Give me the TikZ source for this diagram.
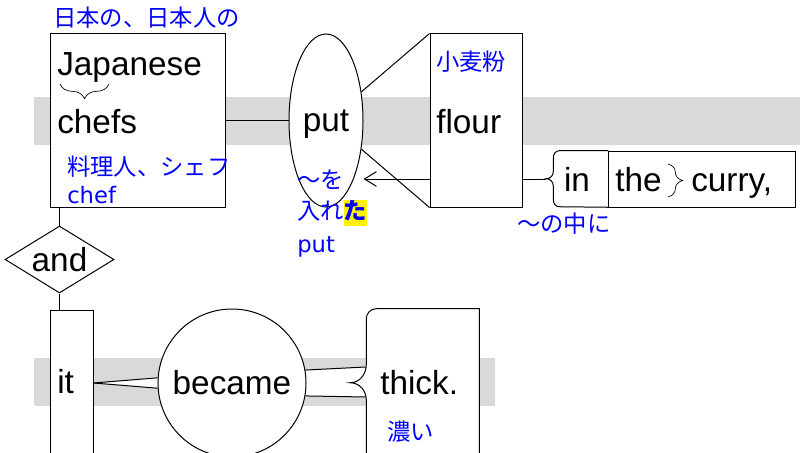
\documentclass[tikz,border=0pt]{standalone}
\usepackage{fontspec}
\setmainfont{Liberation Sans}
\newfontfamily\jpfont{Noto Sans CJK JP}
\newfontfamily\glosslatin{DejaVu Sans}
\usetikzlibrary{shapes.geometric, arrows.meta, decorations.pathreplacing}
\pgfdeclarelayer{bands}
\pgfdeclarelayer{links}
\pgfsetlayers{bands,links,main}
\newcommand\wordfont{\fontsize{25}{30}\selectfont}
\newcommand\glossfont{\jpfont\fontsize{17.5}{20}\selectfont}
\newcommand\yellowmark[1]{{\setlength{\fboxsep}{0pt}\colorbox{yellow}{\rule[-0.3em]{0pt}{1.0em}\bfseries #1}}}
\tikzset{
  wordbox/.style={
    rectangle,
    draw=black,
    fill=white,
    line width=0.75pt,
    inner sep=0pt
  },
  clear/.style={
    rectangle,
    inner sep=0pt,
    font=\wordfont
  },
  verb/.style={
    ellipse,
    draw=black,
    fill=white,
    line width=0.75pt,
    inner sep=0pt,
    text depth=0pt,
    font=\wordfont
  },
  event/.style={
    circle,
    draw=black,
    fill=white,
    line width=0.75pt,
    inner sep=0pt,
    minimum size=111pt,
    font=\wordfont
  },
  conj/.style={
    diamond,
    aspect=1.63,
    draw=black,
    fill=white,
    line width=0.75pt,
    inner sep=0pt,
    minimum width=81.75pt,
    minimum height=50.25pt,
    font=\wordfont
  },
  word/.style={anchor=base west, inner sep=0pt, font=\wordfont},
  gloss/.style={anchor=base west, inner sep=0pt, text=blue, font=\glossfont},
  latingloss/.style={gloss, font=\glosslatin\fontsize{17}{20}\selectfont},
  band/.style={fill=black!15},
  link/.style={line width=0.75pt},
  back/.style={line width=0.75pt, -{Straight Barb[length=9pt, width=11pt]}},
  brc/.style={decorate, decoration={brace, amplitude=11pt}, line width=0.5pt}
}

\begin{document}
\begin{tikzpicture}[x=0.75pt, y=-0.75pt]
  \useasboundingbox (0,0) rectangle (800,453);
  \begin{pgfonlayer}{bands}
    \fill[band] (34,97) rectangle (800,145);
    \fill[band] (34,358) rectangle (495,406);
  \end{pgfonlayer}

  \node (jp) [wordbox, minimum width=131.25pt, minimum height=129.75pt] at (137.5,120.5) {};
  \node (put) [verb, minimum width=55.5pt, minimum height=129.75pt] at (326,120.5) {put};
  \node (flour) [wordbox, minimum width=69pt, minimum height=129.75pt] at (476,120.5) {};
  \node (inb) [clear, minimum width=46.5pt, minimum height=42pt] at (577,179) {in};
  \node (cur) [wordbox, minimum width=140.25pt, minimum height=42pt] at (701.5,179) {};
  \node (and) [conj] at (59.5,259.5) {and};
  \node (it) [wordbox, minimum width=32.25pt, minimum height=109.5pt] at (71.5,383) {};
  \node (became) [event] at (232,383) {became};
  \node (thk) [clear, minimum width=84.75pt, minimum height=111pt] at (422.5,383) {};

  \begin{pgfonlayer}{links}
    \draw[link] (jp.east) -- (put.west);
    \draw[link] (put.39) -- (flour.north west);
    \draw[link] (put.-39) -- (flour.south west);
    \draw[back] (flour.west |- inb.center) -- (put.east |- inb.center);
    \draw[link] (flour.east |- inb.center) -- (inb.west);
    \draw[link] (jp.south -| and.north) -- (and.north);
    \draw[link] (and.south) -- (and.south |- it.north);
    \fill[white] (it.east) -- (became.176) -- (became.184) -- cycle;
    \draw[link] (it.east) -- (became.176);
    \draw[link] (it.east) -- (became.184);
    \fill[white] (became.10) -- ([yshift=12pt]thk.west) -- ([yshift=-10.5pt]thk.west) -- (became.-10) -- cycle;
    \draw[link] (became.10) -- ([yshift=12pt]thk.west);
    \draw[link] (became.-10) -- ([yshift=-10.5pt]thk.west);
  \end{pgfonlayer}

  \draw[link] (inb.north east) -- ++(-49,0) to[out=180,in=90] ++(-6,7) -- ++(0,14)
    to[out=-90,in=0] ++(-7,7) to[out=0,in=90] ++(7,7) -- ++(0,14)
    to[out=-90,in=180] ++(6,7) -- (inb.south east);
  \draw[link, fill=white] (thk.north east) -- ++(-103,0) to[out=180,in=90] ++(-10,10)
    -- ++(0,46) to[out=-90,in=0] ++(-16,18) to[out=0,in=90] ++(16,17)
    -- ++(0,57) -- (thk.south east) -- cycle;

  \node (jap) [word] at (57,75) {Japanese};
  \node (chefs) [word] at (57,133) {chefs};
  \node (flw) [word] at (436,133) {flour};
  \node (the) [word] at (615,191) {the};
  \node (curry) [word] at (691,191) {curry,};
  \node (itw) [word] at (57,393) {it};
  \node (thick) [word] at (380,394) {thick.};

  \draw[brc, decoration={mirror}] (60,84) -- (109,84);
  \draw[brc] (668,164) -- (668,197);

  \node (g1) [gloss] at (53,27) {日本の、日本人の};
  \node (g2) [gloss] at (67,175) {料理人、シェフ};
  \node (g3) [latingloss] at (67,203) {chef};
  \node (g4) [gloss] at (436,71) {小麦粉};
  \node (g5) [gloss] at (297,188) {〜を};
  \node (g6) [gloss] at (297,219) {入れ\yellowmark{た}};
  \node (g7) [latingloss] at (297,252) {put};
  \node (g8) [gloss] at (517,232) {〜の中に};
  \node (g9) [gloss] at (387,440) {濃い};
\end{tikzpicture}
\end{document}
